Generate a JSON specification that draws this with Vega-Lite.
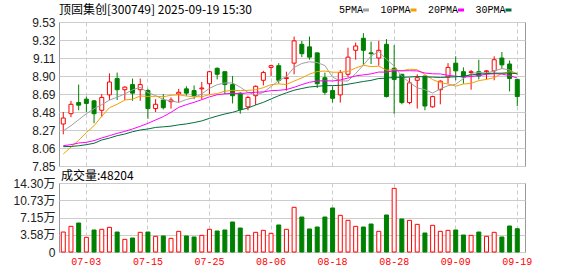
{
  "$schema": "https://vega.github.io/schema/vega-lite/v6.json",
  "background": "white",
  "padding": {"left": 12, "top": 3, "right": 4, "bottom": 2},
  "spacing": -4,
  "config": {
    "view": {"stroke": "#999999", "strokeWidth": 1},
    "axis": {"domain": false, "ticks": false, "title": null, "gridColor": "#cccccc", "gridWidth": 1, "labelFont": "Liberation Sans", "labelFontSize": 12, "labelColor": "#222222", "labelOverlap": false, "labelSeparation": 0},
    "title": {"font": "Noto Sans CJK SC", "fontSize": 12, "fontWeight": "normal", "color": "#000000", "anchor": "start", "frame": "group"}
  },
  "datasets": {
    "k": [
      {"d": "06-30", "open": 8.34, "high": 8.48, "low": 8.22, "close": 8.41, "vol": 41400, "trend": "up", "ma5": 8.26, "ma10": 7.99, "ma20": 8.087, "ma30": 8.076},
      {"d": "07-01", "open": 8.46, "high": 8.61, "low": 8.42, "close": 8.57, "vol": 53200, "trend": "up", "ma5": 8.32, "ma10": 8.07, "ma20": 8.099, "ma30": 8.078},
      {"d": "07-02", "open": 8.59, "high": 8.80, "low": 8.50, "close": 8.56, "vol": 60100, "trend": "down", "ma5": 8.39, "ma10": 8.15, "ma20": 8.118, "ma30": 8.086},
      {"d": "07-03", "open": 8.63, "high": 8.66, "low": 8.48, "close": 8.58, "vol": 30400, "trend": "up", "ma5": 8.46, "ma10": 8.24, "ma20": 8.126, "ma30": 8.099},
      {"d": "07-04", "open": 8.61, "high": 8.62, "low": 8.35, "close": 8.46, "vol": 45600, "trend": "down", "ma5": 8.518, "ma10": 8.32, "ma20": 8.146, "ma30": 8.115},
      {"d": "07-07", "open": 8.50, "high": 8.69, "low": 8.42, "close": 8.65, "vol": 47000, "trend": "up", "ma5": 8.566, "ma10": 8.43, "ma20": 8.177, "ma30": 8.153},
      {"d": "07-08", "open": 8.68, "high": 8.93, "low": 8.62, "close": 8.83, "vol": 51100, "trend": "up", "ma5": 8.618, "ma10": 8.53, "ma20": 8.204, "ma30": 8.176},
      {"d": "07-09", "open": 8.87, "high": 8.94, "low": 8.62, "close": 8.74, "vol": 41400, "trend": "down", "ma5": 8.653, "ma10": 8.57, "ma20": 8.231, "ma30": 8.204},
      {"d": "07-10", "open": 8.74, "high": 8.78, "low": 8.62, "close": 8.77, "vol": 26200, "trend": "up", "ma5": 8.691, "ma10": 8.62, "ma20": 8.254, "ma30": 8.223},
      {"d": "07-11", "open": 8.80, "high": 8.87, "low": 8.61, "close": 8.70, "vol": 29000, "trend": "down", "ma5": 8.739, "ma10": 8.629, "ma20": 8.282, "ma30": 8.25},
      {"d": "07-14", "open": 8.74, "high": 8.87, "low": 8.61, "close": 8.80, "vol": 40800, "trend": "up", "ma5": 8.768, "ma10": 8.667, "ma20": 8.313, "ma30": 8.27},
      {"d": "07-15", "open": 8.73, "high": 8.75, "low": 8.40, "close": 8.52, "vol": 41400, "trend": "down", "ma5": 8.706, "ma10": 8.662, "ma20": 8.348, "ma30": 8.282},
      {"d": "07-16", "open": 8.52, "high": 8.63, "low": 8.48, "close": 8.57, "vol": 32500, "trend": "up", "ma5": 8.672, "ma10": 8.663, "ma20": 8.387, "ma30": 8.30},
      {"d": "07-17", "open": 8.62, "high": 8.69, "low": 8.51, "close": 8.53, "vol": 33200, "trend": "down", "ma5": 8.625, "ma10": 8.658, "ma20": 8.426, "ma30": 8.307},
      {"d": "07-18", "open": 8.60, "high": 8.65, "low": 8.52, "close": 8.62, "vol": 28300, "trend": "up", "ma5": 8.61, "ma10": 8.675, "ma20": 8.476, "ma30": 8.315},
      {"d": "07-21", "open": 8.69, "high": 8.75, "low": 8.59, "close": 8.71, "vol": 42800, "trend": "up", "ma5": 8.591, "ma10": 8.68, "ma20": 8.534, "ma30": 8.33},
      {"d": "07-22", "open": 8.75, "high": 8.78, "low": 8.67, "close": 8.70, "vol": 33200, "trend": "down", "ma5": 8.626, "ma10": 8.666, "ma20": 8.566, "ma30": 8.341},
      {"d": "07-23", "open": 8.73, "high": 8.79, "low": 8.63, "close": 8.67, "vol": 31100, "trend": "down", "ma5": 8.646, "ma10": 8.659, "ma20": 8.593, "ma30": 8.357},
      {"d": "07-24", "open": 8.75, "high": 8.83, "low": 8.63, "close": 8.76, "vol": 34500, "trend": "up", "ma5": 8.691, "ma10": 8.658, "ma20": 8.624, "ma30": 8.376},
      {"d": "07-25", "open": 8.81, "high": 8.96, "low": 8.69, "close": 8.95, "vol": 47000, "trend": "up", "ma5": 8.756, "ma10": 8.683, "ma20": 8.656, "ma30": 8.406},
      {"d": "07-28", "open": 8.99, "high": 9.00, "low": 8.86, "close": 8.92, "vol": 43500, "trend": "down", "ma5": 8.799, "ma10": 8.695, "ma20": 8.681, "ma30": 8.433},
      {"d": "07-29", "open": 8.95, "high": 8.95, "low": 8.69, "close": 8.80, "vol": 45600, "trend": "down", "ma5": 8.819, "ma10": 8.723, "ma20": 8.692, "ma30": 8.457},
      {"d": "07-30", "open": 8.80, "high": 8.90, "low": 8.58, "close": 8.67, "vol": 62200, "trend": "down", "ma5": 8.819, "ma10": 8.733, "ma20": 8.698, "ma30": 8.476},
      {"d": "07-31", "open": 8.70, "high": 8.71, "low": 8.46, "close": 8.51, "vol": 49700, "trend": "down", "ma5": 8.769, "ma10": 8.73, "ma20": 8.694, "ma30": 8.503},
      {"d": "08-01", "open": 8.54, "high": 8.67, "low": 8.50, "close": 8.65, "vol": 34500, "trend": "up", "ma5": 8.709, "ma10": 8.733, "ma20": 8.704, "ma30": 8.527},
      {"d": "08-04", "open": 8.67, "high": 8.79, "low": 8.56, "close": 8.78, "vol": 40800, "trend": "up", "ma5": 8.681, "ma10": 8.74, "ma20": 8.71, "ma30": 8.562},
      {"d": "08-05", "open": 8.85, "high": 8.96, "low": 8.79, "close": 8.94, "vol": 44900, "trend": "up", "ma5": 8.708, "ma10": 8.764, "ma20": 8.715, "ma30": 8.593},
      {"d": "08-06", "open": 9.00, "high": 9.03, "low": 8.90, "close": 9.02, "vol": 38700, "trend": "up", "ma5": 8.778, "ma10": 8.799, "ma20": 8.729, "ma30": 8.632},
      {"d": "08-07", "open": 9.02, "high": 9.05, "low": 8.81, "close": 8.85, "vol": 56000, "trend": "down", "ma5": 8.847, "ma10": 8.808, "ma20": 8.733, "ma30": 8.67},
      {"d": "08-08", "open": 8.87, "high": 8.95, "low": 8.73, "close": 8.88, "vol": 47000, "trend": "up", "ma5": 8.893, "ma10": 8.801, "ma20": 8.742, "ma30": 8.704},
      {"d": "08-11", "open": 9.05, "high": 9.36, "low": 8.92, "close": 9.31, "vol": 92600, "trend": "up", "ma5": 9.0, "ma10": 8.841, "ma20": 8.768, "ma30": 8.734},
      {"d": "08-12", "open": 9.27, "high": 9.31, "low": 9.12, "close": 9.16, "vol": 72500, "trend": "down", "ma5": 9.046, "ma10": 8.877, "ma20": 8.80, "ma30": 8.754},
      {"d": "08-13", "open": 9.24, "high": 9.36, "low": 9.09, "close": 9.12, "vol": 47700, "trend": "down", "ma5": 9.066, "ma10": 8.922, "ma20": 8.827, "ma30": 8.772},
      {"d": "08-14", "open": 9.17, "high": 9.17, "low": 8.76, "close": 8.81, "vol": 51800, "trend": "down", "ma5": 9.056, "ma10": 8.952, "ma20": 8.841, "ma30": 8.78},
      {"d": "08-15", "open": 8.88, "high": 8.94, "low": 8.68, "close": 8.71, "vol": 72500, "trend": "down", "ma5": 9.022, "ma10": 8.958, "ma20": 8.845, "ma30": 8.788},
      {"d": "08-18", "open": 8.73, "high": 8.78, "low": 8.59, "close": 8.64, "vol": 91200, "trend": "down", "ma5": 8.887, "ma10": 8.944, "ma20": 8.842, "ma30": 8.788},
      {"d": "08-19", "open": 8.68, "high": 8.97, "low": 8.59, "close": 8.94, "vol": 76000, "trend": "up", "ma5": 8.842, "ma10": 8.944, "ma20": 8.854, "ma30": 8.791},
      {"d": "08-20", "open": 8.92, "high": 9.23, "low": 8.89, "close": 9.12, "vol": 65600, "trend": "up", "ma5": 8.842, "ma10": 8.954, "ma20": 8.876, "ma30": 8.804},
      {"d": "08-21", "open": 9.20, "high": 9.29, "low": 9.09, "close": 9.25, "vol": 53200, "trend": "up", "ma5": 8.93, "ma10": 8.993, "ma20": 8.901, "ma30": 8.82},
      {"d": "08-22", "open": 9.34, "high": 9.40, "low": 9.03, "close": 9.20, "vol": 51800, "trend": "down", "ma5": 9.028, "ma10": 9.025, "ma20": 8.913, "ma30": 8.836},
      {"d": "08-25", "open": 9.17, "high": 9.30, "low": 9.04, "close": 9.16, "vol": 58000, "trend": "down", "ma5": 9.133, "ma10": 9.01, "ma20": 8.925, "ma30": 8.849},
      {"d": "08-26", "open": 9.11, "high": 9.31, "low": 9.02, "close": 9.20, "vol": 42800, "trend": "up", "ma5": 9.186, "ma10": 9.014, "ma20": 8.946, "ma30": 8.871},
      {"d": "08-27", "open": 9.27, "high": 9.33, "low": 8.65, "close": 8.66, "vol": 76700, "trend": "down", "ma5": 9.094, "ma10": 8.968, "ma20": 8.945, "ma30": 8.874},
      {"d": "08-28", "open": 8.99, "high": 9.26, "low": 8.46, "close": 8.86, "vol": 131900, "trend": "up", "ma5": 9.016, "ma10": 8.973, "ma20": 8.962, "ma30": 8.885},
      {"d": "08-29", "open": 8.92, "high": 8.92, "low": 8.57, "close": 8.59, "vol": 68400, "trend": "down", "ma5": 8.895, "ma10": 8.961, "ma20": 8.96, "ma30": 8.884},
      {"d": "09-01", "open": 8.59, "high": 8.88, "low": 8.57, "close": 8.82, "vol": 65600, "trend": "up", "ma5": 8.826, "ma10": 8.979, "ma20": 8.962, "ma30": 8.888},
      {"d": "09-02", "open": 8.85, "high": 8.92, "low": 8.52, "close": 8.88, "vol": 57300, "trend": "up", "ma5": 8.761, "ma10": 8.974, "ma20": 8.959, "ma30": 8.894},
      {"d": "09-03", "open": 8.90, "high": 8.90, "low": 8.50, "close": 8.55, "vol": 39400, "trend": "down", "ma5": 8.74, "ma10": 8.917, "ma20": 8.935, "ma30": 8.89},
      {"d": "09-04", "open": 8.54, "high": 8.67, "low": 8.53, "close": 8.66, "vol": 55300, "trend": "up", "ma5": 8.701, "ma10": 8.858, "ma20": 8.926, "ma30": 8.887},
      {"d": "09-05", "open": 8.74, "high": 8.85, "low": 8.57, "close": 8.84, "vol": 42800, "trend": "up", "ma5": 8.75, "ma10": 8.823, "ma20": 8.924, "ma30": 8.883},
      {"d": "09-08", "open": 8.89, "high": 9.05, "low": 8.81, "close": 9.00, "vol": 44900, "trend": "up", "ma5": 8.787, "ma10": 8.806, "ma20": 8.908, "ma30": 8.886},
      {"d": "09-09", "open": 9.05, "high": 9.13, "low": 8.85, "close": 8.96, "vol": 45600, "trend": "down", "ma5": 8.804, "ma10": 8.782, "ma20": 8.898, "ma30": 8.891},
      {"d": "09-10", "open": 8.95, "high": 9.00, "low": 8.81, "close": 8.89, "vol": 35200, "trend": "down", "ma5": 8.871, "ma10": 8.806, "ma20": 8.887, "ma30": 8.898},
      {"d": "09-11", "open": 8.94, "high": 8.97, "low": 8.74, "close": 8.95, "vol": 34500, "trend": "up", "ma5": 8.929, "ma10": 8.815, "ma20": 8.894, "ma30": 8.913},
      {"d": "09-12", "open": 8.95, "high": 9.09, "low": 8.86, "close": 8.90, "vol": 41400, "trend": "down", "ma5": 8.942, "ma10": 8.846, "ma20": 8.904, "ma30": 8.922},
      {"d": "09-15", "open": 8.95, "high": 8.97, "low": 8.86, "close": 8.96, "vol": 32500, "trend": "up", "ma5": 8.934, "ma10": 8.86, "ma20": 8.92, "ma30": 8.928},
      {"d": "09-16", "open": 8.96, "high": 9.13, "low": 8.85, "close": 9.09, "vol": 40800, "trend": "up", "ma5": 8.959, "ma10": 8.881, "ma20": 8.927, "ma30": 8.933},
      {"d": "09-17", "open": 9.11, "high": 9.18, "low": 8.98, "close": 9.03, "vol": 31100, "trend": "down", "ma5": 8.987, "ma10": 8.929, "ma20": 8.923, "ma30": 8.933},
      {"d": "09-18", "open": 9.04, "high": 9.08, "low": 8.72, "close": 8.87, "vol": 53900, "trend": "down", "ma5": 8.97, "ma10": 8.949, "ma20": 8.904, "ma30": 8.934},
      {"d": "09-19", "open": 8.86, "high": 8.86, "low": 8.55, "close": 8.66, "vol": 48204, "trend": "down", "ma5": 8.921, "ma10": 8.932, "ma20": 8.877, "ma30": 8.926}
    ]
  },
  "vconcat": [
    {
      "width": 466,
      "height": 144,
      "title": {"text": "顶固集创[300749] 2025-09-19 15:30", "offset": -13, "baseline": "bottom", "fontSize": 12, "font": "Noto Sans CJK SC"},
      "data": {"name": "k"},
      "encoding": {
        "x": {
          "field": "d", "type": "ordinal", "sort": null,
          "scale": {"type": "band", "paddingInner": 0, "paddingOuter": 0.28, "align": 0.1},
          "axis": {"values": ["07-03", "07-15", "07-25", "08-06", "08-18", "08-28", "09-09", "09-19"], "labels": false, "grid": true, "gridDash": [4, 3], "bandPosition": 0.5, "minExtent": 0, "maxExtent": 0}
        }
      },
      "layer": [
        {
          "mark": {"type": "rule", "strokeWidth": 1},
          "encoding": {
            "y": {"field": "low", "type": "quantitative", "scale": {"domain": [7.85, 9.53], "nice": false, "zero": false},
                  "axis": {"values": [7.85, 8.06, 8.27, 8.48, 8.69, 8.90, 9.11, 9.32, 9.53], "format": ".2f", "grid": true, "labelOverlap": false, "labelSeparation": 0, "labelFlush": false, "labelPadding": 4, "minExtent": 44, "maxExtent": 44}},
            "y2": {"field": "high"},
            "color": {"condition": {"test": "datum.close >= datum.open", "value": "#ff0000"}, "value": "#008000"}
          }
        },
        {
          "mark": {"type": "bar", "size": 4, "strokeWidth": 1},
          "encoding": {
            "y": {"field": "open", "type": "quantitative",
                  "axis": {"values": [7.85, 8.06, 8.27, 8.48, 8.69, 8.90, 9.11, 9.32, 9.53], "format": ".2f", "grid": true, "labelOverlap": false, "labelSeparation": 0, "labelFlush": false, "labelPadding": 4, "minExtent": 44, "maxExtent": 44}},
            "y2": {"field": "close"},
            "fill": {"condition": {"test": "datum.close >= datum.open", "value": "#ffffff"}, "value": "#008000"},
            "stroke": {"condition": {"test": "datum.close >= datum.open", "value": "#ff0000"}, "value": "#008000"}
          }
        },
        {
          "transform": [{"fold": ["ma5", "ma10", "ma20", "ma30"], "as": ["ma", "v"]}],
          "mark": {"type": "line", "strokeWidth": 1},
          "encoding": {
            "y": {"field": "v", "type": "quantitative",
                  "axis": {"values": [7.85, 8.06, 8.27, 8.48, 8.69, 8.90, 9.11, 9.32, 9.53], "format": ".2f", "grid": true, "labelOverlap": false, "labelSeparation": 0, "labelFlush": false, "labelPadding": 4, "minExtent": 44, "maxExtent": 44}},
            "color": {
              "field": "ma", "type": "nominal",
              "scale": {"domain": ["ma5", "ma10", "ma20", "ma30"], "range": ["#a0a0a0", "#f5a000", "#ff00ff", "#006f3c"]},
              "legend": {
                "orient": "none", "legendX": 302, "legendY": -17, "direction": "horizontal", "columns": 4, "title": null,
                "labelExpr": "replace(datum.label, 'ma', '') + 'PMA'",
                "labelFont": "Liberation Mono", "labelFontSize": 10, "labelColor": "#000000",
                "labelAlign": "right", "labelOffset": -8,
                "symbolType": "stroke", "symbolSize": 36, "symbolStrokeWidth": 3,
                "columnPadding": 4.5, "padding": 0
              }
            }
          }
        }
      ]
    },
    {
      "width": 466,
      "height": 69,
      "title": {"text": "成交量:48204", "offset": -18, "baseline": "bottom", "dx": 2, "fontSize": 12, "font": "Noto Sans CJK SC"},
      "data": {"name": "k"},
      "mark": {"type": "bar", "size": 4, "strokeWidth": 1},
      "encoding": {
        "x": {
          "field": "d", "type": "ordinal", "sort": null,
          "scale": {"type": "band", "paddingInner": 0, "paddingOuter": 0.28, "align": 0.1},
          "axis": {"values": ["07-03", "07-15", "07-25", "08-06", "08-18", "08-28", "09-09", "09-19"], "grid": true, "gridDash": [4, 3], "bandPosition": 0.5, "labelAngle": 0, "labelColor": "#ff0000", "labelFont": "Liberation Mono", "labelFontSize": 10, "labelPadding": 4}
        },
        "y": {
          "field": "vol", "type": "quantitative", "scale": {"domain": [0, 143000], "nice": false},
          "axis": {"values": [0, 35800, 71500, 107300, 143000], "labelExpr": "datum.value == 0 ? '0' : format(datum.value / 10000, '.2f') + '万'", "grid": true, "labelOverlap": false, "labelFlush": false, "labelPadding": 4, "labelFont": "Liberation Sans, Noto Sans CJK SC", "minExtent": 44, "maxExtent": 44}
        },
        "fill": {"condition": {"test": "datum.trend == 'up'", "value": "#ffffff"}, "value": "#008000"},
        "stroke": {"condition": {"test": "datum.trend == 'up'", "value": "#ff0000"}, "value": "#008000"}
      }
    }
  ]
}
